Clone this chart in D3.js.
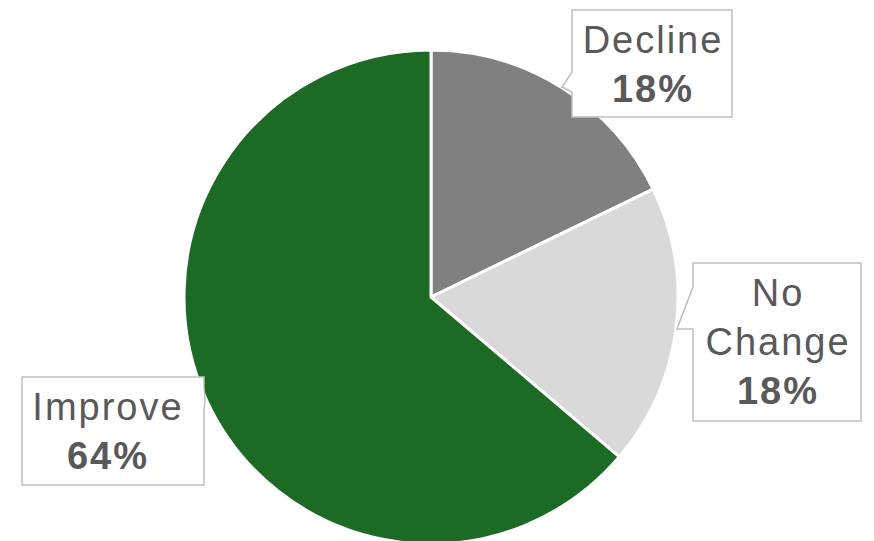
<!DOCTYPE html>
<html>
<head>
<meta charset="utf-8">
<script src="https://cdn.jsdelivr.net/npm/d3@7"></script>
<style>
  html, body { margin: 0; padding: 0; background: #ffffff; }
  svg { display: block; }
</style>
</head>
<body>
<svg id="chart" width="874" height="541"></svg>
<script>
// ---- data ----
const categories = ["Decline", "No Change", "Improve"];
const values = [17.8, 18.4, 63.8];
const colors = ["#808080", "#d9d9d9", "#1b6b25"];
// label lines for each category (category name may wrap)
const labelLines = [["Decline"], ["No", "Change"], ["Improve"]];

// ---- layout ----
const W = 874, H = 541;
const cx = 431, cy = 297, R = 247;

const svg = d3.select("#chart");
const g = svg.append("g").attr("transform", `translate(${cx},${cy})`);

const pie = d3.pie().sort(null).value(d => d.value);
const arcs = pie(categories.map((c, i) => ({ name: c, value: values[i], color: colors[i] })));
const arc = d3.arc().innerRadius(0).outerRadius(R);

g.selectAll("path.slice")
  .data(arcs)
  .join("path")
  .attr("class", "slice")
  .attr("d", arc)
  .attr("fill", d => d.data.color)
  .attr("stroke", "#ffffff")
  .attr("stroke-width", 3)
  .attr("stroke-linejoin", "round");

// ---- callouts ----
const boxes = [
  { x0: 572, y0: 10, x1: 732, y1: 117, side: "left", p0: 72, p1: 92, tdx: 1 },
  { x0: 693, y0: 263, x1: 861, y1: 421, side: "left", p0: 287, p1: 329, tdx: 1 },
  { x0: 22, y0: 377, x1: 204, y1: 485, side: "right", p0: 388, p1: 412, tdx: -5 }
];
const tipY = [87, 329, 399];

const pct = values.map(v => Math.round(v) + "%");

const callouts = svg.append("g");
boxes.forEach((b, i) => {
  const ty = tipY[i];
  const dx = Math.sqrt(R * R - (ty - cy) * (ty - cy));
  const tx = b.side === "left" ? cx + dx + 1 : cx - dx - 1;
  let pts;
  if (b.side === "left") {
    pts = [[b.x0, b.y0], [b.x1, b.y0], [b.x1, b.y1], [b.x0, b.y1], [b.x0, b.p1], [tx, ty], [b.x0, b.p0]];
  } else {
    pts = [[b.x0, b.y0], [b.x1, b.y0], [b.x1, b.p0], [tx, ty], [b.x1, b.p1], [b.x1, b.y1], [b.x0, b.y1]];
  }
  callouts.append("path")
    .attr("d", d3.line()(pts) + "Z")
    .attr("fill", "#ffffff")
    .attr("stroke", "#bfbfbf")
    .attr("stroke-width", 1.5);

  const mx = (b.x0 + b.x1) / 2 + b.tdx;
  const lines = labelLines[i];
  const lineH = 49;
  const firstBase = b.y0 + 43;
  const t = callouts.append("text")
    .attr("text-anchor", "middle")
    .attr("font-family", "'Liberation Sans', Arial, Helvetica, sans-serif")
    .attr("font-size", 38)
    .attr("letter-spacing", 2)
    .attr("fill", "#595959");
  lines.forEach((ln, k) => {
    t.append("tspan").attr("x", mx).attr("y", firstBase + k * lineH).text(ln);
  });
  t.append("tspan").attr("x", mx).attr("y", firstBase + lines.length * lineH)
    .attr("font-weight", "bold").text(pct[i]);
});
</script>
</body>
</html>
